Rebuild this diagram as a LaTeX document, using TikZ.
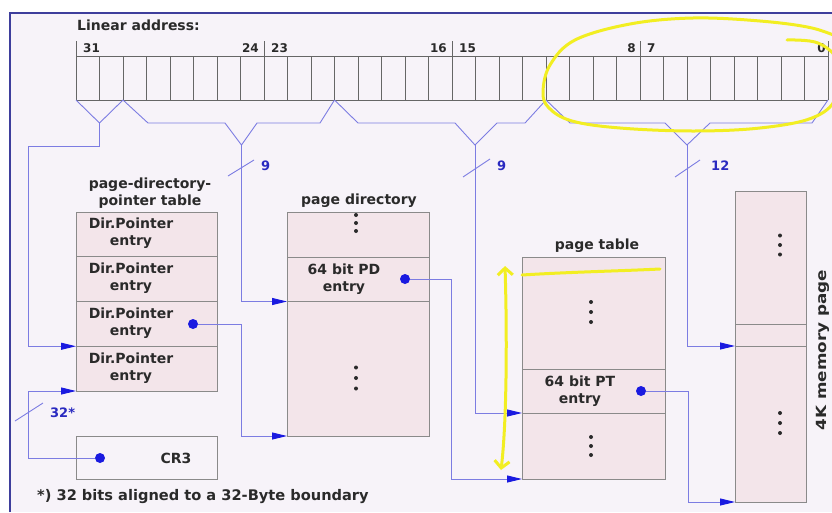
\documentclass[tikz,border=0pt]{standalone}
\usepackage{fontspec}
\setmainfont{DejaVu Sans}
\usetikzlibrary{arrows.meta,calc}
\definecolor{bgcol}{HTML}{F7F3F9}
\definecolor{framecol}{HTML}{3E3E9C}
\definecolor{boxfill}{HTML}{F3E5EA}
\definecolor{boxline}{HTML}{8A8A8A}
\definecolor{barline}{HTML}{666666}
\definecolor{wirecol}{HTML}{7C7CE2}
\definecolor{tipcol}{HTML}{1A1AE0}
\definecolor{numcol}{HTML}{2A2AC0}
\definecolor{txtcol}{HTML}{2A2A2A}
\definecolor{marker}{HTML}{F2EE22}
\newcommand\threedots[3]{\foreach \dy in {-1,0,1} \fill[txtcol] ({#1},{#2+#3*\dy}) circle (2);}
\begin{document}
\begin{tikzpicture}[x=1pt,y=-1pt,
  txt/.style={font=\fontsize{14}{17}\selectfont\bfseries, text=txtcol, inner sep=0pt},
  bitnum/.style={font=\fontsize{12}{14}\selectfont\bfseries, text=txtcol, inner sep=0pt},
  blu/.style={font=\fontsize{13}{15}\selectfont\bfseries, text=numcol, inner sep=0pt},
  tbl/.style={draw=boxline, fill=boxfill, line width=1pt, inner sep=0pt, outer sep=0pt, anchor=north west},
  bar/.style={draw=barline, line width=0.8pt},
  wire/.style={draw=wirecol, line width=0.9pt},
  arr/.style={wire, -{Triangle[length=15pt,width=7pt,color=tipcol]}},
  dot/.style={circle, fill=tipcol, inner sep=0pt, minimum size=10pt, outer sep=0pt},
  hilite/.style={draw=marker, line width=3pt, line cap=round, line join=round}]
\useasboundingbox (0,0) rectangle (832,512);
\fill[white] (0,0) rectangle (832,512);
\fill[bgcol] (10,13) rectangle (832,512);
\draw[framecol, line width=2pt] (10,512) -- (10,13) -- (832,13);

% linear address register
\node[txt, anchor=west] (title) at (77,25) {Linear address:};
\draw[bar] (76,56) -- (828,56) (76,100) -- (828,100);
\foreach \k in {0,...,32} \draw[bar] ({76+23.5*\k},56) -- ++(0,44);
\foreach \k in {0,8,16,24,32} \draw[bar] ({76+23.5*\k},41) -- ++(0,15);
\node[bitnum, anchor=west] (b31) at (83,48) {31};
\node[bitnum, anchor=east] (b24) at (259,48) {24};
\node[bitnum, anchor=west] (b23) at (271,48) {23};
\node[bitnum, anchor=east] (b16) at (447,48) {16};
\node[bitnum, anchor=west] (b15) at (459,48) {15};
\node[bitnum, anchor=east] (b8) at (636,48) {8};
\node[bitnum, anchor=west] (b7) at (647,48) {7};
\node[bitnum, anchor=east] (b0) at (826,48) {0};

% page-directory-pointer table
\node[txt, align=center] (pdptlabel) at (150,193) {page-directory-\\pointer table};
\node[tbl, minimum width=141pt, minimum height=44.75pt] (pdpt0) at (76,212) {};
\node[tbl, minimum width=141pt, minimum height=44.75pt] (pdpt1) at (76,256.75) {};
\node[tbl, minimum width=141pt, minimum height=44.75pt] (pdpt2) at (76,301.5) {};
\node[tbl, minimum width=141pt, minimum height=44.75pt] (pdpt3) at (76,346.25) {};
\node[txt, align=center] (pdpt0t) at (131,233.5) {Dir.Pointer\\entry};
\node[txt, align=center] (pdpt1t) at (131,278.5) {Dir.Pointer\\entry};
\node[txt, align=center] (pdpt2t) at (131,323) {Dir.Pointer\\entry};
\node[txt, align=center] (pdpt3t) at (131,368) {Dir.Pointer\\entry};

% CR3
\node[tbl, minimum width=141pt, minimum height=43pt, fill=bgcol] (cr3) at (76,436) {};
\node[txt] (cr3t) at (176,458) {CR3};

% page directory
\node[txt] (pdlabel) at (359,201) {page directory};
\node[tbl, minimum width=142pt, minimum height=224pt] (pd) at (287,212) {};
\node[tbl, minimum width=142pt, minimum height=44.5pt] (pdentry) at (287,257) {};
\node[txt, align=center] (pdentryt) at (344,279) {64 bit PD\\entry};
\threedots{356}{223}{8}
\threedots{356}{378}{10.5}

% page table
\node[txt] (ptlabel) at (597,246) {page table};
\node[tbl, minimum width=143pt, minimum height=222pt] (pt) at (522,257) {};
\node[tbl, minimum width=143pt, minimum height=44pt] (ptentry) at (522,369) {};
\node[txt, align=center] (ptentryt) at (580,391) {64 bit PT\\entry};
\threedots{591}{312}{10}
\threedots{591}{446}{9}

% 4K memory page
\node[tbl, minimum width=71pt, minimum height=311pt] (mp) at (735,191) {};
\node[tbl, minimum width=71pt, minimum height=22pt] (mpentry) at (735,324) {};
\node[txt, rotate=90] (mplabel) at (823,350) {\scalebox{1.2}[1]{4K memory page}};
\threedots{780}{245}{9.5}
\threedots{780}{423}{10}

% field splits of the linear address
\coordinate (f1L) at (76,100);   \coordinate (f1R) at (123,100);
\coordinate (j1) at (99.5,123);  \coordinate (k1) at (99.5,146);
\coordinate (k1b) at (28,146);
\draw[wire] (f1L) -- (j1) -- (f1R);
\draw[arr] (j1) -- (k1) -- (k1b) |- (pdpt2.south west);

\coordinate (f2L) at (123,100);  \coordinate (f2R) at (334.5,100);
\coordinate (j2) at (241.5,145);
\draw[wire] (f2L) -- (148,123) -- (225,123) -- (j2) -- (257,123) -- (320,123) -- (f2R);
\draw[arr] (j2) |- (pdentry.south west);

\coordinate (f3L) at (334.5,100); \coordinate (f3R) at (546,100);
\coordinate (j3) at (475,145);
\draw[wire] (f3L) -- (358,123) -- (455,123) -- (j3) -- (497,123) -- (525,123) -- (f3R);
\draw[arr] (j3) |- (ptentry.south west);

\coordinate (f4L) at (546,100);  \coordinate (f4R) at (828,100);
\coordinate (j4) at (687,145);
\draw[wire] (f4L) -- (570,123) -- (665,123) -- (j4) -- (710,123) -- (812,123) -- (f4R);
\draw[arr] (j4) |- (mpentry.south west);

% bus-width marks
\draw[wire] (228,176) -- (254,160);
\draw[wire] (463,177) -- (490,159);
\draw[wire] (675,177) -- (700,160);
\draw[wire] (15,421) -- (43,403);
\node[blu, anchor=west] (w9a) at (261,166) {9};
\node[blu, anchor=west] (w9b) at (497,166) {9};
\node[blu, anchor=west] (w12) at (711,166) {12};
\node[blu, anchor=west] (w32) at (50,413) {32*};

% pointer dots and their links
\node[dot] (pdptdot) at (193,324) {};
\node[dot] (pddot) at (405,279) {};
\node[dot] (ptdot) at (641,391) {};
\node[dot] (cr3dot) at (100,458) {};
\draw[arr] (pdptdot.east) -| ([xshift=-45.5pt]pd.south west) -- (pd.south west);
\draw[arr] (pddot.east) -| ([xshift=-70.5pt]pt.south west) -- (pt.south west);
\draw[arr] (ptdot.east) -| ([xshift=-47pt]mp.south west) -- (mp.south west);
\draw[arr] (cr3dot.west) -| ([xshift=-48pt]pdpt3.south west) -- (pdpt3.south west);

% footnote
\node[txt, anchor=west, font=\fontsize{14.6}{17}\selectfont\bfseries] (foot) at (37,497) {*) 32 bits aligned to a 32-Byte boundary};

% hand-drawn highlights
\draw[hilite] plot[smooth, tension=0.6] coordinates {(787,40) (818,43) (838,62) (836,98) (812,118) (760,128) (693,131) (620,128) (572,121) (549,108) (543,92) (550,65) (575,40) (630,24) (693,18) (760,21) (812,28) (845,40)};
\draw[hilite, {Straight Barb[length=7pt,width=15pt]}-{Straight Barb[length=7pt,width=15pt]}] (505,266) .. controls (507,330) and (507,420) .. (501,470);
\draw[hilite] (522,275) .. controls (570,272) and (620,271) .. (660,269);
\end{tikzpicture}
\end{document}
